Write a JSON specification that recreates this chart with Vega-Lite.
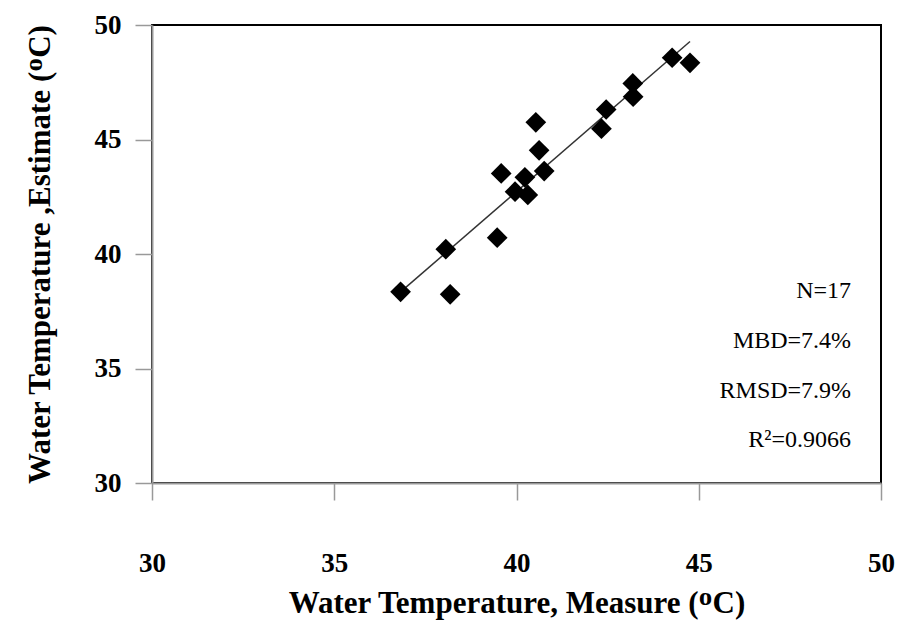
{
  "$schema": "https://vega.github.io/schema/vega-lite/v6.json",
  "width": 729,
  "height": 458,
  "autosize": {"type": "none"},
  "padding": {"left": 152, "top": 25, "right": 17, "bottom": 149},
  "background": "white",
  "config": {
    "view": {"stroke": "black", "strokeWidth": 2},
    "axis": {
      "grid": false,
      "domainColor": "#999999",
      "domainWidth": 2,
      "tickColor": "#999999",
      "tickWidth": 1.5,
      "tickSize": 17,
      "labelFlush": false,
      "labelFont": "Liberation Serif",
      "labelFontWeight": "bold",
      "labelFontSize": 27,
      "labelColor": "black",
      "titleFont": "Liberation Serif",
      "titleFontWeight": "bold",
      "titleFontSize": 31,
      "titleColor": "black"
    }
  },
  "datasets": {
    "points": [
      {"measure": 36.82, "estimate": 38.35},
      {"measure": 38.06, "estimate": 40.21},
      {"measure": 38.18, "estimate": 38.24},
      {"measure": 39.47, "estimate": 40.71},
      {"measure": 39.58, "estimate": 43.52},
      {"measure": 39.96, "estimate": 42.72},
      {"measure": 40.23, "estimate": 43.35},
      {"measure": 40.31, "estimate": 42.58},
      {"measure": 40.53, "estimate": 45.75},
      {"measure": 40.62, "estimate": 44.53},
      {"measure": 40.76, "estimate": 43.62},
      {"measure": 42.33, "estimate": 45.47},
      {"measure": 42.46, "estimate": 46.31},
      {"measure": 43.2, "estimate": 46.87},
      {"measure": 43.19, "estimate": 47.45},
      {"measure": 44.27, "estimate": 48.57},
      {"measure": 44.76, "estimate": 48.35}
    ],
    "stats": [
      {"label": "N=17", "x": 49.18, "y": 38.08},
      {"label": "MBD=7.4%", "x": 49.18, "y": 35.9},
      {"label": "RMSD=7.9%", "x": 49.18, "y": 33.71},
      {"label": "R²=0.9066", "x": 49.18, "y": 31.57}
    ]
  },
  "layer": [
    {
      "data": {"name": "points"},
      "transform": [{"regression": "estimate", "on": "measure"}],
      "mark": {"type": "line", "color": "#333333", "strokeWidth": 1.5},
      "encoding": {
        "x": {"field": "measure", "type": "quantitative"},
        "y": {"field": "estimate", "type": "quantitative"}
      }
    },
    {
      "data": {"name": "points"},
      "mark": {"type": "point", "shape": "diamond", "filled": true, "color": "black", "opacity": 1, "size": 430},
      "encoding": {
        "x": {
          "field": "measure",
          "type": "quantitative",
          "scale": {"domain": [30, 50], "nice": false, "zero": false},
          "axis": {"values": [30, 35, 40, 45, 50], "labelPadding": 50, "titlePadding": 12, "title": "Water Temperature, Measure (ᴼC)"}
        },
        "y": {
          "field": "estimate",
          "type": "quantitative",
          "scale": {"domain": [30, 50], "nice": false, "zero": false},
          "axis": {"values": [30, 35, 40, 45, 50], "labelPadding": 14, "titlePadding": 38, "title": "Water Temperature ,Estimate (ᴼC)"}
        }
      }
    },
    {
      "data": {"name": "stats"},
      "mark": {"type": "text", "align": "right", "baseline": "alphabetic", "font": "Liberation Serif", "fontSize": 24, "color": "black"},
      "encoding": {
        "x": {"field": "x", "type": "quantitative"},
        "y": {"field": "y", "type": "quantitative"},
        "text": {"field": "label"}
      }
    }
  ]
}
